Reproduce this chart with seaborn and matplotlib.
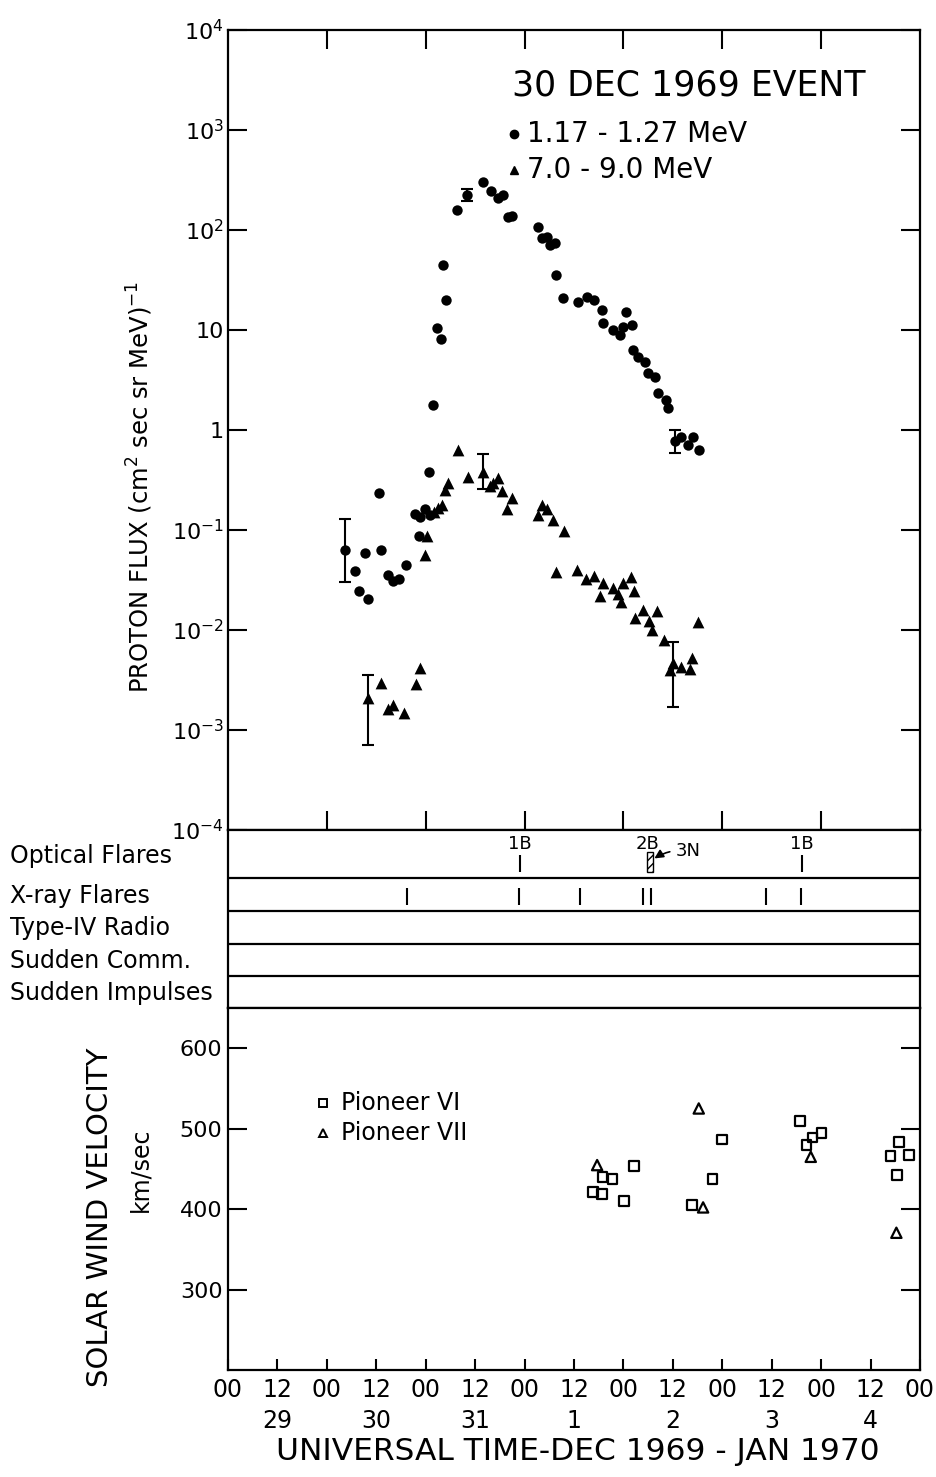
import numpy as np
import pandas as pd
import matplotlib
matplotlib.use("Agg")
import matplotlib.pyplot as plt
import seaborn as sns
from matplotlib.ticker import NullLocator
from matplotlib.patches import Rectangle

# ---------------- data (time in days after 1969-12-29 00 UT) ----------------
low_t = [1.180, 1.284, 1.325, 1.390, 1.419, 1.532, 1.549, 1.623, 1.671, 1.734,
         1.802, 1.891, 1.931, 1.941, 1.992, 2.035, 2.042, 2.070, 2.110, 2.151,
         2.177, 2.204, 2.312, 2.414, 2.575, 2.659, 2.733, 2.778, 2.834, 2.869,
         3.138, 3.172, 3.222, 3.256, 3.306, 3.316, 3.384, 3.542, 3.627, 3.706,
         3.779, 3.795, 3.896, 3.964, 3.997, 4.031, 4.082, 4.098, 4.149, 4.216,
         4.250, 4.317, 4.351, 4.429, 4.452, 4.520, 4.587, 4.654, 4.705, 4.765]
low_flux = [0.063, 0.039, 0.0248, 0.059, 0.0203, 0.236, 0.063, 0.0351, 0.031, 0.0325,
            0.0447, 0.145, 0.087, 0.135, 0.162, 0.383, 0.141, 1.78, 10.4, 8.1,
            44.7, 20.0, 158, 224, 300, 245, 210, 224, 136, 138,
            108, 82.6, 84.5, 70.8, 73.6, 35.5, 21.0, 19.2, 21.5, 19.8,
            15.8, 11.7, 10.0, 9.0, 10.8, 15.2, 11.2, 6.27, 5.43, 4.82,
            3.74, 3.41, 2.36, 2.0, 1.65, 0.78, 0.857, 0.708, 0.845, 0.631]

high_t = [1.416, 1.550, 1.618, 1.668, 1.777, 1.904, 1.938, 1.992, 2.012, 2.083,
          2.123, 2.164, 2.194, 2.228, 2.329, 2.430, 2.581, 2.649, 2.683, 2.733,
          2.767, 2.824, 2.869, 3.138, 3.172, 3.222, 3.289, 3.316, 3.397, 3.532,
          3.625, 3.701, 3.758, 3.795, 3.896, 3.946, 3.974, 3.997, 4.078, 4.110,
          4.122, 4.194, 4.257, 4.284, 4.335, 4.414, 4.469, 4.500, 4.587, 4.671,
          4.698, 4.754]
high_flux = [0.00207, 0.00297, 0.00162, 0.00178, 0.00149, 0.00286, 0.00414, 0.0562, 0.087, 0.151,
             0.166, 0.178, 0.251, 0.295, 0.631, 0.339, 0.383, 0.275, 0.295, 0.331,
             0.245, 0.161, 0.209, 0.141, 0.178, 0.161, 0.126, 0.0383, 0.0977, 0.0398,
             0.0321, 0.0347, 0.0219, 0.0297, 0.0263, 0.0229, 0.0192, 0.0295, 0.0341, 0.0247,
             0.0131, 0.0158, 0.0124, 0.0101, 0.0156, 0.00789, 0.00398, 0.00468, 0.0043, 0.00405,
             0.00521, 0.0119]

low_err_t = [1.180, 2.414, 4.520]
low_err_val = [0.063, 224, 0.78]
low_err_lo = [0.030, 195, 0.585]
low_err_hi = [0.129, 257, 1.0]

high_err_t = [1.416, 2.581, 4.500]
high_err_val = [0.00207, 0.383, 0.00468]
high_err_lo = [0.000708, 0.257, 0.00171]
high_err_hi = [0.00355, 0.575, 0.00767]

optical_t = [2.955, 4.247, 5.809]
optical_class = ["1B", "2B", "1B"]
optical_3n_t = 4.29
xray_t = [1.813, 2.945, 3.559, 4.199, 4.274, 5.447, 5.794]

p6_t = [3.694, 3.785, 3.789, 3.890, 4.007, 4.108, 4.695, 4.901, 4.998, 5.784,
        5.851, 5.912, 6.003, 6.701, 6.767, 6.788, 6.889]
p6_v = [421.5, 418.6, 440.1, 437.3, 410.3, 453.4, 405.0, 437.6, 486.6, 509.3,
        479.5, 489.1, 494.8, 465.8, 442.2, 483.6, 467.1]
p7_t = [3.734, 4.762, 4.806, 5.895, 6.761]
p7_v = [454.7, 525.1, 402.1, 465.0, 370.6]

flux_ticks = [1e-4, 1e-3, 1e-2, 1e-1, 1, 10, 1e2, 1e3, 1e4]
flux_tick_labels = ["$10^{-4}$", "$10^{-3}$", "$10^{-2}$", "$10^{-1}$", "1", "10",
                    "$10^{2}$", "$10^{3}$", "$10^{4}$"]
hour_labels = ["00", "12"]
day_labels = ["29", "30", "31", "1", "2", "3", "4"]
vel_ticks = [300, 400, 500, 600]
row_names = ["Optical Flares", "X-ray Flares", "Type-IV Radio", "Sudden Comm.", "Sudden Impulses"]

# ---------------- style ----------------
sns.set_style("ticks")
plt.rcParams['font.family'] = ['DejaVu Sans']
plt.rcParams['mathtext.default'] = 'regular'
plt.rcParams['axes.linewidth'] = 1.6
for key in ['text.color', 'axes.edgecolor', 'axes.labelcolor', 'xtick.color', 'ytick.color']:
    plt.rcParams[key] = 'black'

W, H = 936, 1477
fig = plt.figure(figsize=(W / 100, H / 100), dpi=100)


def box(x0, y0, x1, y1):
    return [x0 / W, 1 - y1 / H, (x1 - x0) / W, (y1 - y0) / H]


ax1 = fig.add_axes(box(228, 30, 920, 830))
axs = fig.add_axes(box(228, 830, 920, 1008))
ax2 = fig.add_axes(box(228, 1008, 920, 1370))

# ---------------- top panel: proton flux ----------------
df_lo = pd.DataFrame({"t": low_t, "flux": low_flux})
df_hi = pd.DataFrame({"t": high_t, "flux": high_flux})
sns.scatterplot(data=df_lo, x="t", y="flux", marker="o", s=56, color="black",
                linewidth=0, ax=ax1, zorder=3)
sns.scatterplot(data=df_hi, x="t", y="flux", marker="^", s=72, color="black",
                linewidth=0, ax=ax1, zorder=3)
ax1.errorbar(low_err_t, low_err_val,
             yerr=[np.subtract(low_err_val, low_err_lo), np.subtract(low_err_hi, low_err_val)],
             fmt="none", ecolor="black", elinewidth=1.5, capsize=4, capthick=1.5)
ax1.errorbar(high_err_t, high_err_val,
             yerr=[np.subtract(high_err_val, high_err_lo), np.subtract(high_err_hi, high_err_val)],
             fmt="none", ecolor="black", elinewidth=1.5, capsize=4, capthick=1.5)
ax1.set_yscale("log")
ax1.set_xlim(0, 7)
ax1.set_ylim(1e-4, 1e4)
ax1.set_yticks(flux_ticks)
ax1.set_yticklabels(flux_tick_labels)
ax1.yaxis.set_minor_locator(NullLocator())
ax1.set_xticks(range(1, 7))
ax1.set_xticklabels([])
ax1.tick_params(axis="both", which="major", direction="in", length=14, width=1.5,
                top=True, right=True, labelsize=16, pad=3)
ax1.set_xlabel("")
ax1.set_ylabel("")

ax1.text(0.410, 0.930, "30 DEC 1969 EVENT", transform=ax1.transAxes,
         fontsize=25, ha="left", va="center")
ax1.plot([0.4133], [0.870], "o", ms=6, color="black", transform=ax1.transAxes)
ax1.text(0.432, 0.870, "1.17 - 1.27 MeV", transform=ax1.transAxes,
         fontsize=20, ha="left", va="center")
ax1.plot([0.4133], [0.825], "^", ms=6, color="black", transform=ax1.transAxes)
ax1.text(0.432, 0.825, "7.0 - 9.0 MeV", transform=ax1.transAxes,
         fontsize=20, ha="left", va="center")

# ---------------- event strips ----------------
row_edges = [0, 48, 81, 113.5, 145.5, 178]
axs.set_xlim(0, 7)
axs.set_ylim(178, 0)
for y in row_edges[1:-1]:
    axs.axhline(y, color="black", lw=1.6)
axs.set_xticks([])
axs.set_yticks([])
for sp in axs.spines.values():
    sp.set_linewidth(1.6)

for t, c in zip(optical_t, optical_class):
    axs.text(t, 14, c, ha="center", va="center", fontsize=13)
    if c != "2B":
        axs.vlines(t, 25, 42, color="black", lw=1.5)
axs.add_patch(Rectangle((optical_t[1] - 0.005, 22), 0.06, 20, facecolor="none",
                        edgecolor="black", hatch="////", lw=1.0))
axs.annotate("3N", xy=(optical_3n_t, 30), xytext=(optical_3n_t + 0.24, 21),
             fontsize=13, ha="left", va="center",
             arrowprops=dict(arrowstyle="-|>", color="black", lw=1.2,
                             connectionstyle="arc3,rad=0.2"))
axs.vlines(xray_t, 58, 75, color="black", lw=1.5)

row_centers = [26, 65.5, 98.25, 130.5, 162.75]
for name, yc in zip(row_names, row_centers):
    fig.text(10 / W, 1 - (830 + yc) / H, name, ha="left", va="center", fontsize=17)

# ---------------- bottom panel: solar wind ----------------
df6 = pd.DataFrame({"t": p6_t, "v": p6_v})
df7 = pd.DataFrame({"t": p7_t, "v": p7_v})
sns.scatterplot(data=df6, x="t", y="v", marker="s", s=48, ax=ax2, color="black")
ax2.collections[-1].set_facecolor("none")
ax2.collections[-1].set_edgecolor("black")
ax2.collections[-1].set_linewidth(1.6)
sns.scatterplot(data=df7, x="t", y="v", marker="^", s=55, ax=ax2, color="black")
ax2.collections[-1].set_facecolor("none")
ax2.collections[-1].set_edgecolor("black")
ax2.collections[-1].set_linewidth(1.6)

ax2.set_xlim(0, 7)
ax2.set_ylim(200, 650)
ax2.set_yticks(vel_ticks)
ax2.set_xticks(np.arange(0, 7.01, 0.5))
xlabels = []
for i in range(15):
    if i % 2 == 0:
        xlabels.append(hour_labels[0])
    else:
        xlabels.append(hour_labels[1] + "\n" + day_labels[i // 2])
ax2.set_xticklabels(xlabels)
for lab in ax2.get_xticklabels():
    lab.set_linespacing(1.35)
ax2.tick_params(axis="x", direction="in", length=8, width=1.5, top=False,
                labelsize=17, pad=6)
ax2.tick_params(axis="y", direction="in", length=14, width=1.5, right=True,
                labelsize=16, pad=4)
ax2.set_xlabel("")
ax2.set_ylabel("")

ax2.plot([0.137], [0.7376], "s", ms=6, mfc="none", mec="black", mew=1.4,
         transform=ax2.transAxes)
ax2.text(0.164, 0.7376, "Pioneer VI", transform=ax2.transAxes, fontsize=17,
         ha="left", va="center")
ax2.plot([0.137], [0.6547], "^", ms=6, mfc="none", mec="black", mew=1.4,
         transform=ax2.transAxes)
ax2.text(0.164, 0.6547, "Pioneer VII", transform=ax2.transAxes, fontsize=17,
         ha="left", va="center")

# ---------------- axis titles ----------------
fig.text(140 / W, 1 - 487 / H, "PROTON FLUX (cm$^2$ sec sr MeV)$^{-1}$", rotation=90,
         ha="center", va="center", fontsize=17.5)
fig.text(100 / W, 1 - 1217 / H, "SOLAR WIND VELOCITY", rotation=90,
         ha="center", va="center", fontsize=21)
fig.text(140 / W, 1 - 1170 / H, "km/sec", rotation=90,
         ha="center", va="center", fontsize=17)
fig.text(578 / W, 1 - 1452 / H, "UNIVERSAL TIME-DEC 1969 - JAN 1970",
         ha="center", va="center", fontsize=22.5)

fig.savefig("out.png", dpi=100)
